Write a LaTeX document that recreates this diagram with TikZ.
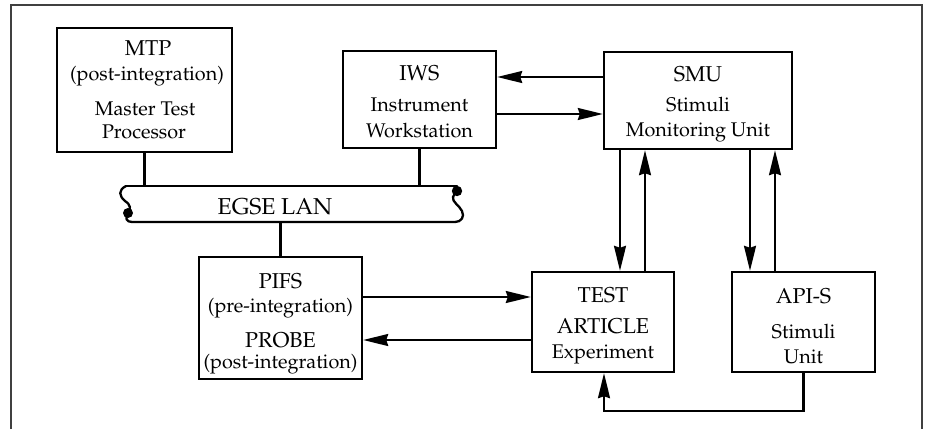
\documentclass[tikz,border=0pt]{standalone}
\usepackage[T1]{fontenc}
\usepackage{mathpazo}
\usetikzlibrary{arrows.meta}
\begin{document}
\begin{tikzpicture}[x=1pt,y=-1pt,
 box/.style={draw, line width=2.4pt, inner sep=0pt, rectangle},
 ttl/.style={anchor=base, inner sep=0pt, font=\fontsize{21.5}{24}\selectfont},
 sub/.style={anchor=base, inner sep=0pt, font=\fontsize{19.8}{22}\selectfont},
 conn/.style={line width=2.1pt},
 arr/.style={conn, -{Stealth[length=25pt,width=12pt,inset=2pt]}},
 lanline/.style={line width=2.3pt, line cap=round, line join=round},
 frameline/.style={line width=1.4pt, black!75}
]
\useasboundingbox (0,0) rectangle (925,429);
\draw[frameline] (11,429) -- (11,5) -- (922,5) -- (922,429);

% boxes
\node[box, minimum width=175pt, minimum height=124pt] (mtp) at (144.5,90) {};
\node[box, minimum width=153pt, minimum height=97pt] (iws) at (419.5,99.5) {};
\node[box, minimum width=188pt, minimum height=97pt] (smu) at (698,100.5) {};
\node[box, minimum width=163pt, minimum height=122pt] (pifs) at (280.5,318) {};
\node[box, minimum width=142pt, minimum height=100pt] (test) at (603,322) {};
\node[box, minimum width=143pt, minimum height=100pt] (apis) at (803.5,322) {};

% texts
\node[ttl] (mtp1) at (148,55) {MTP};
\node[sub] (mtp2) at (147,80) {(post-integration)};
\node[sub] (mtp3) at (145,115) {Master Test};
\node[sub] (mtp4) at (144,138) {Processor};

\node[ttl] (iws1) at (419.5,80) {IWS};
\node[sub] (iws2) at (419.5,111) {Instrument};
\node[sub] (iws3) at (419.5,137) {Workstation};

\node[ttl] (smu1) at (698,81) {SMU};
\node[sub] (smu2) at (698,111) {Stimuli};
\node[sub] (smu3) at (698,136) {Monitoring Unit};

\node[ttl] (pifs1) at (280.5,288) {PIFS};
\node[sub] (pifs2) at (280.5,312) {(pre-integration)};
\node[ttl] (pifs3) at (280.5,347) {PROBE};
\node[sub] (pifs4) at (280.5,368) {(post-integration)};

\node[ttl] (test1) at (603,302) {TEST};
\node[ttl] (test2) at (603,333) {ARTICLE};
\node[sub] (test3) at (603,358) {Experiment};

\node[ttl] (apis1) at (803.5,303) {API-S};
\node[sub] (apis2) at (803.5,338) {Stimuli};
\node[sub] (apis3) at (803.5,363) {Unit};

% LAN banner
\draw[lanline] (126,186) -- (457,186);
\draw[lanline] (126,186) .. controls (118,190) and (119,196) .. (125,201)
   .. controls (131,205) and (131,209) .. (128,213)
   .. controls (125,218) and (126,222) .. (132,222) -- (455,222)
   .. controls (461,222) and (465,217) .. (462,211)
   .. controls (459,205) and (452,202) .. (453,197)
   .. controls (454,194) and (456,192) .. (457,191);
\fill (128,213) circle (5pt);
\fill (457,191) circle (5.2pt);
\node[anchor=base, inner sep=0pt, font=\fontsize{23}{25}\selectfont] (lan) at (275,214) {EGSE LAN};
\coordinate (lantop) at (0,186);
\coordinate (lanbot) at (0,222);

% LAN links
\draw[conn] (mtp.south) -- (mtp.south |- lantop);
\draw[conn] (iws.south) -- (iws.south |- lantop);
\draw[conn] (pifs.north) -- (pifs.north |- lanbot);

% horizontal arrows
\coordinate (ya) at (0,77);
\coordinate (yb) at (0,114);
\coordinate (yc) at (0,297);
\coordinate (yd) at (0,340);
\draw[arr] (smu.west |- ya) -- (iws.east |- ya);
\draw[arr] (iws.east |- yb) -- (smu.west |- yb);
\draw[arr] (pifs.east |- yc) -- (test.west |- yc);
\draw[arr] (test.west |- yd) -- (pifs.east |- yd);

% vertical arrows
\coordinate (xa) at (620,0);
\coordinate (xb) at (645,0);
\coordinate (xc) at (750,0);
\coordinate (xd) at (775,0);
\draw[arr] (smu.south -| xa) -- (test.north -| xa);
\draw[arr] (test.north -| xb) -- (smu.south -| xb);
\draw[arr] (smu.south -| xc) -- (apis.north -| xc);
\draw[arr] (apis.north -| xd) -- (smu.south -| xd);

% bottom loop
\coordinate (yl) at (0,411);
\coordinate (xe) at (604,0);
\draw[arr] (apis.south) -- (apis.south |- yl) -| (test.south -| xe);
\end{tikzpicture}
\end{document}
